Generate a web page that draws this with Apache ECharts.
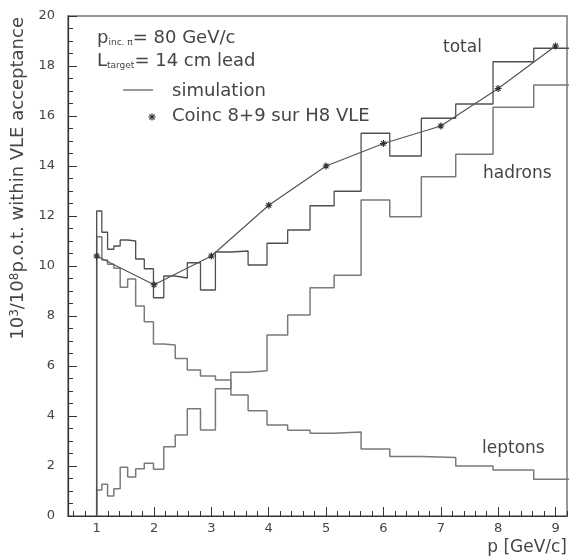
<!DOCTYPE html>
<html>
<head>
<meta charset="utf-8">
<script src="https://cdn.jsdelivr.net/npm/echarts@6/dist/echarts.min.js"></script>
<style>
html,body{margin:0;padding:0;background:#fff;}
#chart{width:570px;height:557px;}
</style>
</head>
<body>
<div id="chart"></div>
<script>
// bin edges (GeV/c)
var binEdges = [1.00, 1.09, 1.19, 1.30, 1.41, 1.54, 1.68, 1.83, 1.99, 2.17, 2.37, 2.58, 2.81, 3.07, 3.34, 3.64, 3.97, 4.33, 4.72, 5.14, 5.61, 6.11, 6.66, 7.26, 7.91, 8.62, 9.40];
// simulated histograms (one value per bin)
var totalValues   = [12.2, 11.35, 10.67, 10.8, 11.04, 11.0, 10.28, 9.89, 8.73, 9.6, 9.52, 10.13, 9.04, 10.56, 10.6, 10.04, 10.91, 11.44, 12.41, 12.99, 15.31, 14.4, 15.91, 16.48, 18.17, 18.71];
var hadronValues  = [1.04, 1.27, 0.8, 1.09, 1.95, 1.56, 1.89, 2.11, 1.87, 2.77, 3.24, 4.29, 3.44, 5.09, 5.75, 5.81, 7.24, 8.04, 9.13, 9.63, 12.64, 11.97, 13.57, 14.47, 16.35, 17.24];
var leptonValues  = [11.17, 10.24, 10.07, 9.91, 9.15, 9.48, 8.4, 7.77, 6.88, 6.84, 6.3, 5.84, 5.6, 5.44, 4.84, 4.21, 3.64, 3.43, 3.31, 3.36, 2.68, 2.38, 2.34, 2.0, 1.84, 1.47];
// measured points (Coinc 8+9 sur H8 VLE)
var measP = [1, 2, 3, 4, 5, 6, 7, 8, 9];
var measY = [10.4, 9.25, 10.4, 12.43, 14.0, 14.9, 15.6, 17.1, 18.8];
// tick labels
var xMajorTicks = [1, 2, 3, 4, 5, 6, 7, 8, 9];
var xMinorTicks = [];
for (var t = 6; t <= 92; t += 2) { if (t % 10 !== 0) xMinorTicks.push(t / 10); }

function stepPoints(edges, vals) {
  var pts = [[edges[0], 0]];
  for (var i = 0; i < vals.length; i++) {
    pts.push([edges[i], vals[i]]);
    pts.push([edges[i + 1], vals[i]]);
  }
  return pts;
}
function pairs(xs, ys) { return xs.map(function (x, i) { return [x, ys[i]]; }); }

var FONT = 'DejaVu Sans';
var TXT = '#454545';
var AX = '#333';
var STAR = 'path://M0 5L10 5M5 0L5 10M1.6 1.6L8.4 8.4M8.4 1.6L1.6 8.4';

function starLines(cx, cy, r) {
  var d = r * 0.75;
  var st = { stroke: '#333', lineWidth: 1.2 };
  return [
    { type: 'line', shape: { x1: cx - r, y1: cy, x2: cx + r, y2: cy }, style: st },
    { type: 'line', shape: { x1: cx, y1: cy - r, x2: cx, y2: cy + r }, style: st },
    { type: 'line', shape: { x1: cx - d, y1: cy - d, x2: cx + d, y2: cy + d }, style: st },
    { type: 'line', shape: { x1: cx + d, y1: cy - d, x2: cx - d, y2: cy + d }, style: st }
  ];
}

var graphics = [
  { type: 'text', x: 97, y: 38, style: {
      text: '{m|p}{s|inc. π}{m|= 80 GeV/c}', fill: TXT, font: '18px ' + FONT, verticalAlign: 'middle',
      rich: { m: { fontSize: 18, fontFamily: FONT, fill: TXT }, s: { fontSize: 9, fontFamily: FONT, fill: TXT, verticalAlign: 'bottom' } } } },
  { type: 'text', x: 97, y: 61, style: {
      text: '{m|L}{s|target}{m|= 14 cm lead}', fill: TXT, font: '18px ' + FONT, verticalAlign: 'middle',
      rich: { m: { fontSize: 18, fontFamily: FONT, fill: TXT }, s: { fontSize: 9, fontFamily: FONT, fill: TXT, verticalAlign: 'bottom' } } } },
  { type: 'line', shape: { x1: 123, y1: 90, x2: 153, y2: 90 }, style: { stroke: '#555', lineWidth: 1.2 } },
  { type: 'text', x: 172, y: 91, style: { text: 'simulation', fill: TXT, font: '18px ' + FONT, verticalAlign: 'middle' } },
  { type: 'text', x: 172, y: 116, style: { text: 'Coinc 8+9 sur H8 VLE', fill: TXT, font: '18px ' + FONT, verticalAlign: 'middle' } },
  { type: 'text', x: 443, y: 48, style: { text: 'total', fill: TXT, font: '17px ' + FONT, verticalAlign: 'middle' } },
  { type: 'text', x: 483, y: 174, style: { text: 'hadrons', fill: TXT, font: '17px ' + FONT, verticalAlign: 'middle' } },
  { type: 'text', x: 482, y: 449, style: { text: 'leptons', fill: TXT, font: '17px ' + FONT, verticalAlign: 'middle' } },
  { type: 'text', x: 567, y: 548, style: { text: 'p [GeV/c]', fill: TXT, font: '17px ' + FONT, align: 'right', verticalAlign: 'middle' } },
  { type: 'text', x: 18, y: 17, rotation: Math.PI / 2, style: {
      text: '{a|10}{s|3}{a|/10}{s|8}{a|p.o.t. within VLE acceptance}', fill: TXT, font: '18px ' + FONT,
      align: 'right', verticalAlign: 'middle',
      rich: { a: { fontSize: 18, fontFamily: FONT, fill: TXT }, s: { fontSize: 12, fontFamily: FONT, fill: TXT, verticalAlign: 'top' } } } }
].concat(starLines(152, 117, 3.5));

var chart = echarts.init(document.getElementById('chart'));
chart.setOption({
  animation: false,
  backgroundColor: '#fff',
  grid: { left: 68, top: 16, width: 499, height: 500, show: true, borderColor: '#777', borderWidth: 1.5, outerBoundsMode: 'none' },
  xAxis: [
    {
      type: 'value', min: 0.5, max: 9.2, position: 'bottom',
      axisLine: { onZero: false, lineStyle: { color: AX, width: 1.2 } },
      axisTick: { inside: true, length: 9, customValues: xMajorTicks, lineStyle: { color: AX } },
      axisLabel: { customValues: xMajorTicks, margin: 6, fontSize: 13, color: TXT, fontFamily: FONT },
      splitLine: { show: false }
    },
    {
      type: 'value', min: 0.5, max: 9.2, position: 'bottom',
      axisLine: { show: false, onZero: false },
      axisTick: { inside: true, length: 5, customValues: xMinorTicks, lineStyle: { color: AX } },
      axisLabel: { show: false },
      splitLine: { show: false }
    }
  ],
  yAxis: {
    type: 'value', min: 0, max: 20, interval: 2,
    axisLine: { show: true, lineStyle: { color: AX, width: 1.2 } },
    axisTick: { inside: true, length: 9, lineStyle: { color: AX } },
    minorTick: { show: true, splitNumber: 4, length: 5, lineStyle: { color: AX } },
    axisLabel: { margin: 13, fontSize: 13, color: TXT, fontFamily: FONT },
    splitLine: { show: false }
  },
  series: [
    { name: 'hadrons', type: 'line', data: stepPoints(binEdges, hadronValues), showSymbol: false, clip: true,
      lineStyle: { color: '#7a7a7a', width: 1.5 }, z: 2 },
    { name: 'leptons', type: 'line', data: stepPoints(binEdges, leptonValues), showSymbol: false, clip: true,
      lineStyle: { color: '#7a7a7a', width: 1.5 }, z: 2 },
    { name: 'total', type: 'line', data: stepPoints(binEdges, totalValues), showSymbol: false, clip: true,
      lineStyle: { color: '#505050', width: 1.3 }, z: 3 },
    { name: 'Coinc 8+9 sur H8 VLE', type: 'line', data: pairs(measP, measY), clip: true,
      symbol: STAR, symbolSize: 7, showSymbol: true,
      itemStyle: { color: 'none', borderColor: '#333', borderWidth: 1.2 },
      lineStyle: { color: '#555', width: 1.2 }, z: 4 }
  ],
  graphic: graphics
});
</script>
</body>
</html>
